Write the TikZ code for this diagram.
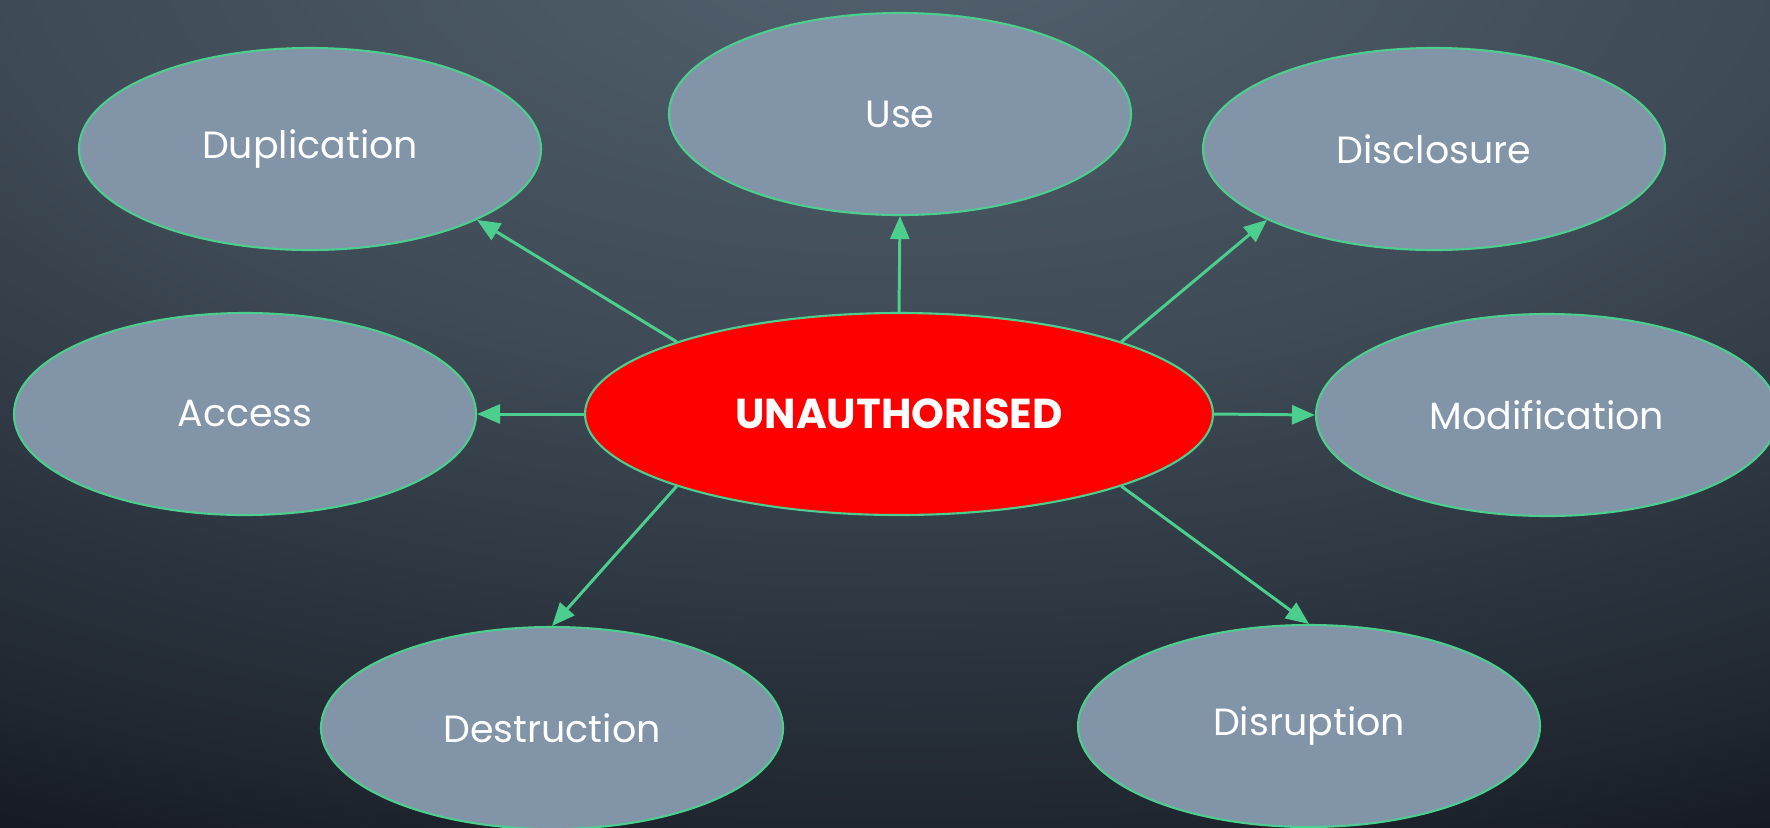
\documentclass[tikz,border=0pt]{standalone}
\usepackage{fontspec}
\setmainfont{Poppins}
\usetikzlibrary{shapes.geometric,arrows.meta}
\definecolor{edgegreen}{HTML}{4CCF8E}
\definecolor{ovalgrey}{HTML}{8294A8}
\definecolor{hotred}{HTML}{FF0000}
\pgfdeclareradialshading{backshade}{\pgfpoint{0bp}{0bp}}{rgb(0bp)=(0.322,0.384,0.431); rgb(9.4bp)=(0.243,0.290,0.333); rgb(18.75bp)=(0.122,0.149,0.188); rgb(20.8bp)=(0.086,0.102,0.133); rgb(25bp)=(0.071,0.082,0.098); rgb(50bp)=(0.071,0.082,0.098)}
\begin{document}
\begin{tikzpicture}[
	oval/.style={ellipse, draw=edgegreen, line width=0.6pt, fill=ovalgrey, minimum width=4.62cm, minimum height=2.02cm, inner sep=0pt, text=white, font=\fontsize{10.8}{13}\selectfont},
	core/.style={oval, fill=hotred, minimum width=6.28cm, font=\fontsize{11.9}{14}\selectfont\bfseries},
	link/.style={draw=edgegreen, line width=0.85pt, -{Triangle[length=2.3mm,width=1.9mm]}}]
			\useasboundingbox (0,0) rectangle (17.7,8.27);
			\begin{scope}
				\clip (0,0) rectangle (17.7,8.27);
				\shade[shading=backshade] (9,9) ellipse (24 and 12);
			\end{scope}
			\node[core] (unauth) at (8.99,4.13) {UNAUTHORISED};
			\node[oval] (use) at (9.00,7.13) {Use};
			\node[oval] (dup) at (3.10,6.78) {Duplication};
			\node[oval] (disc) at (14.34,6.78) {Disclosure};
			\node[oval] (access) at (2.45,4.13) {Access};
			\node[oval] (mod) at (15.47,4.12) {Modification};
			\node[oval] (destr) at (5.52,0.99) {Destruction};
			\node[oval] (disr) at (13.09,1.01) {Disruption};
			\draw[link] (unauth.90) -- (use.270);
			\draw[link] (unauth.162) -- (dup.337);
			\draw[link] (unauth.18) -- (disc.203);
			\draw[link] (unauth.180) -- (access.0);
			\draw[link] (unauth.0) -- (mod.180);
			\draw[link] (unauth.198) -- (destr.90);
			\draw[link] (unauth.342) -- (disr.90);
	\end{tikzpicture}
\end{document}
